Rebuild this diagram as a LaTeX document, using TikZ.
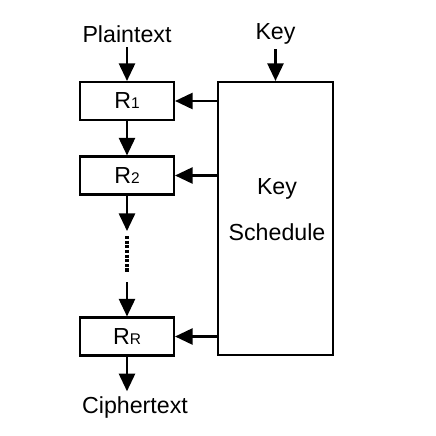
\documentclass[tikz,border=0pt]{standalone}
\usepackage{fontspec}
\setmainfont{Liberation Sans}
\usetikzlibrary{arrows.meta,positioning}

\newcommand{\rnd}[1]{R{\fontsize{11}{13}\selectfont #1}}

\begin{document}
\begin{tikzpicture}[x=0.025cm,y=0.025cm,
  every node/.style={font=\fontsize{16.5}{20}\selectfont},
  roundbox/.style={draw,line width=1.5pt,minimum width=2.35cm,minimum height=0.95cm,inner sep=0pt},
  sched/.style={draw,line width=1.5pt,minimum width=2.875cm,minimum height=6.825cm,inner sep=0pt},
  flow/.style={line width=1.5pt,-{Triangle[length=12.5pt,width=11.5pt]}}]
\fill[white] (0,0) rectangle (436,-436);
% rounds
\node[roundbox] (r1) at (127,-101) {\rnd{1}};
\node[roundbox] (r2) at (127,-175.5) {\rnd{2}};
\node[roundbox] (rR) at (127,-336.5) {\rnd{R}};
% key schedule
\node[sched] (ks) at (275.5,-218.5) {};
\node[align=center] (kstext) at (277,-210) {Key\\[0.45cm]Schedule};
% inputs and output
\node (plain) at (127,-34) {Plaintext};
\node (key) at (275.5,-34) {Key};
\node (cipher) at (135,-407) {Ciphertext};
\coordinate (gapa) at (127,-231);
\coordinate (gapb) at (127,-282);
\draw[flow] (plain) -- (r1);
\draw[flow] (key) -- (ks);
\draw[flow] (r1) -- (r2);
\draw[flow] (r2) -- (gapa);
\draw[line width=2.5pt,dash pattern=on 2.2pt off 1.1pt] (127,-236) -- (127,-272);
\draw[flow] (gapb) -- (rR);
\draw[flow] (rR.south) -- (rR.south |- cipher.north);
% round keys
\draw[flow] (ks.west |- r1) -- (r1.east);
\draw[flow] (ks.west |- r2) -- (r2.east);
\draw[flow] (ks.west |- rR) -- (rR.east);
\end{tikzpicture}
\end{document}
